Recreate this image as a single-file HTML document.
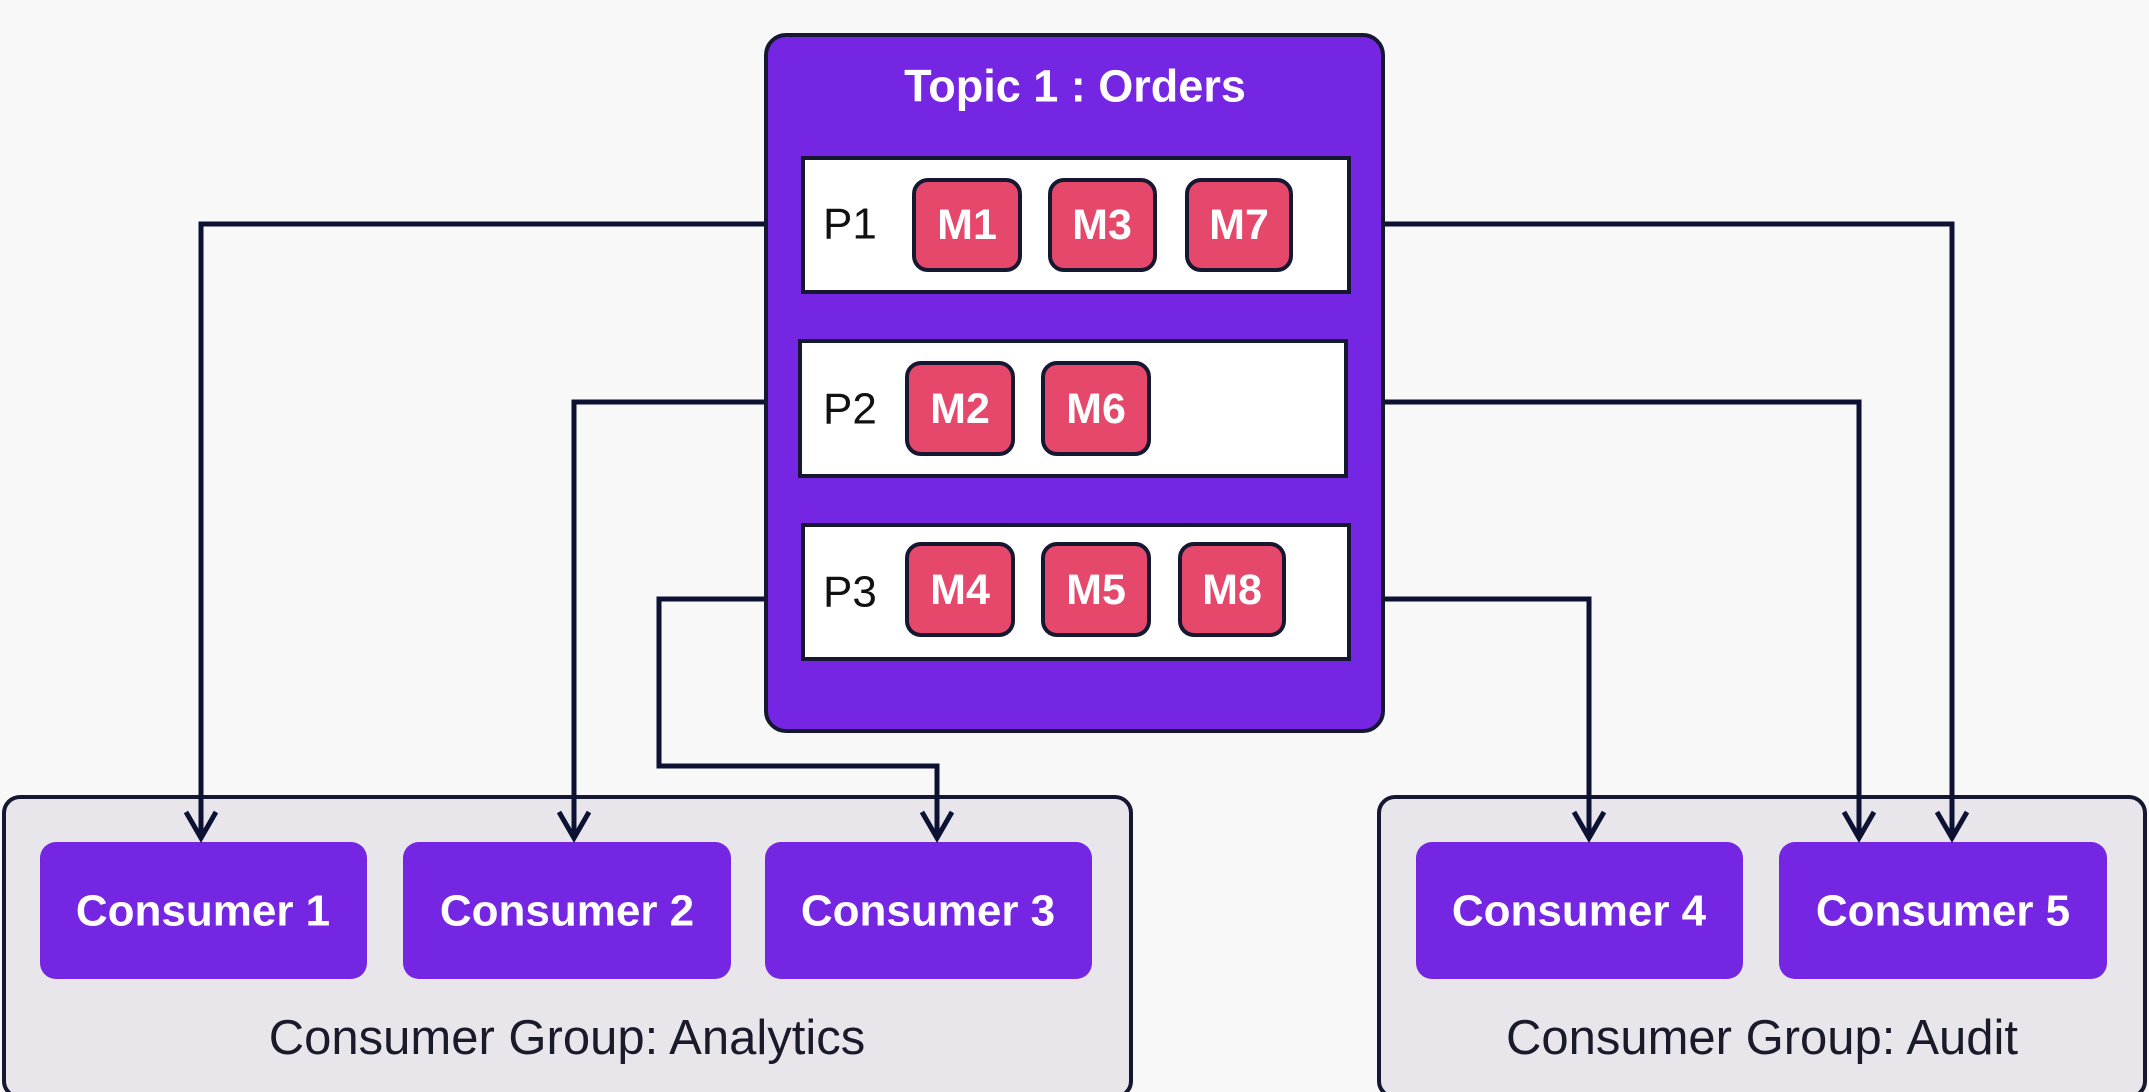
<!DOCTYPE html>
<html><head><meta charset="utf-8"><style>
html,body{margin:0;padding:0;background:#f8f8f8;}
svg{display:block;font-family:"Liberation Sans","DejaVu Sans",sans-serif;}
</style></head><body>
<svg width="2149" height="1092" viewBox="0 0 2149 1092" xmlns="http://www.w3.org/2000/svg">
<rect width="2149" height="1092" fill="#f8f8f8"/>
<!-- groups -->
<rect x="4" y="797" width="1127" height="300" rx="16" fill="#e8e6eb" stroke="#151830" stroke-width="4"/>
<rect x="1379" y="797" width="766" height="300" rx="16" fill="#e8e6eb" stroke="#151830" stroke-width="4"/>
<g fill="#7526e3">
<rect x="40" y="842" width="327" height="137" rx="16"/>
<rect x="403" y="842" width="328" height="137" rx="16"/>
<rect x="765" y="842" width="327" height="137" rx="16"/>
<rect x="1416" y="842" width="327" height="137" rx="16"/>
<rect x="1779" y="842" width="328" height="137" rx="16"/>
</g>
<g fill="#fff" font-size="44" font-weight="bold" text-anchor="middle" dominant-baseline="central">
<text x="203" y="911">Consumer 1</text>
<text x="567" y="911">Consumer 2</text>
<text x="928" y="911">Consumer 3</text>
<text x="1579" y="911">Consumer 4</text>
<text x="1943" y="911">Consumer 5</text>
</g>
<g fill="#1a1a2a" font-size="49" text-anchor="middle" dominant-baseline="central">
<text x="567" y="1038">Consumer Group: Analytics</text>
<text x="1762" y="1038">Consumer Group: Audit</text>
</g>
<!-- connectors -->
<g fill="none" stroke="#0d1235" stroke-width="5">
<polyline points="767,224 201,224 201,835"/>
<polyline points="767,402 574,402 574,835"/>
<polyline points="767,599 659,599 659,766 937,766 937,835"/>
<polyline points="1381,224 1952,224 1952,835"/>
<polyline points="1381,402 1859,402 1859,835"/>
<polyline points="1381,599 1589,599 1589,835"/>
</g>
<g fill="none" stroke="#0d1235" stroke-width="5" stroke-linejoin="miter">
<polyline points="186,812 201,838 216,812"/>
<polyline points="559,812 574,838 589,812"/>
<polyline points="922,812 937,838 952,812"/>
<polyline points="1937,812 1952,838 1967,812"/>
<polyline points="1844,812 1859,838 1874,812"/>
<polyline points="1574,812 1589,838 1604,812"/>
</g>
<!-- topic -->
<rect x="766" y="35" width="617" height="696" rx="20" fill="#7526e3" stroke="#151830" stroke-width="4"/>
<text x="1075" y="86" fill="#fff" font-size="45" font-weight="bold" text-anchor="middle" dominant-baseline="central">Topic 1 : Orders</text>
<g fill="#fff" stroke="#151830" stroke-width="4">
<rect x="803" y="158" width="546" height="134"/>
<rect x="800" y="341" width="546" height="135"/>
<rect x="803" y="525" width="546" height="134"/>
</g>
<g fill="#111" font-size="44" dominant-baseline="central">
<text x="823" y="224">P1</text>
<text x="823" y="409">P2</text>
<text x="823" y="592">P3</text>
</g>
<g fill="#e5486a" stroke="#151830" stroke-width="4">
<rect x="914" y="180" width="106" height="90" rx="14"/>
<rect x="1050" y="180" width="105" height="90" rx="14"/>
<rect x="1187" y="180" width="104" height="90" rx="14"/>
<rect x="907" y="363" width="106" height="91" rx="14"/>
<rect x="1043" y="363" width="106" height="91" rx="14"/>
<rect x="907" y="544" width="106" height="91" rx="14"/>
<rect x="1043" y="544" width="106" height="91" rx="14"/>
<rect x="1180" y="544" width="104" height="91" rx="14"/>
</g>
<g fill="#fff" font-size="43" font-weight="bold" text-anchor="middle" dominant-baseline="central">
<text x="967" y="225">M1</text>
<text x="1102" y="225">M3</text>
<text x="1239" y="225">M7</text>
<text x="960" y="409">M2</text>
<text x="1096" y="409">M6</text>
<text x="960" y="590">M4</text>
<text x="1096" y="590">M5</text>
<text x="1232" y="590">M8</text>
</g>
</svg>
</body></html>
